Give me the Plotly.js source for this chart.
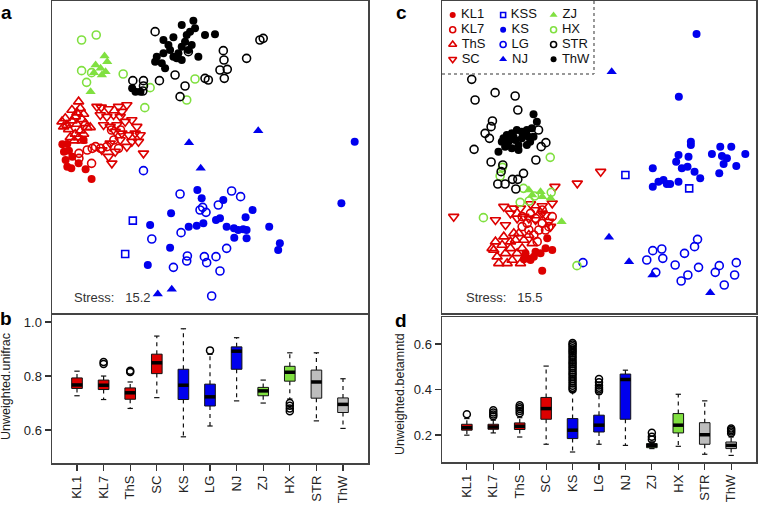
<!DOCTYPE html>
<html>
<head>
<meta charset="utf-8">
<script src="https://cdn.plot.ly/plotly-3.0.1.min.js"></script>
<style>body{margin:0;background:#fff;} #plot{width:759px;height:505px;}</style>
</head>
<body>
<div id="plot"></div>
<script>
// =============================================================================
// NMDS scores (arbitrary units), panel a
// =============================================================================

var a_KL1 = [[186,433],[201,432],[191,455],[206,452],[196,480],[201,500],[213,505],[216,470],[235,490],[250,420],[256,508],[274,537]];
var a_KL7 = [[236,460],[261,450],[276,445],[286,440],[301,445],[236,475],[274,490],[334,390],[361,390],[341,420],[320,440],[355,445]];
var a_ThS = [[235,305],[215,330],[240,325],[230,338],[225,350],[250,342],[195,355],[215,362],[245,358],[185,365],[200,375],[230,372],[255,370],[270,382],[190,380],[205,388],[240,392],[260,382],[225,402],[250,402],[210,412],[235,412],[245,422],[222,422]];
var a_SC  = [[303,322],[325,327],[355,320],[380,315],[290,320],[300,345],[320,350],[340,345],[360,350],[365,335],[310,375],[330,380],[350,375],[375,365],[395,360],[410,380],[345,395],[365,400],[385,405],[405,400],[420,405],[395,425],[415,425],[360,420],[330,430],[305,450],[325,470],[335,490],[430,460],[380,440],[345,455]];
var a_KSS = [[398,662],[375,762]];
var a_KS  = [[592,570],[605,595],[513,640],[450,675],[566,680],[590,677],[610,670],[648,660],[660,655],[670,600],[680,680],[702,685],[715,690],[730,688],[740,690],[703,713],[740,715],[758,630],[737,652],[808,680],[840,730],[835,750],[510,743],[443,795],[1065,425],[1025,610]];
var a_LG  = [[540,582],[695,573],[722,590],[655,615],[600,630],[618,637],[608,622],[543,698],[455,717],[562,768],[560,783],[613,770],[620,788],[648,770],[680,745],[660,813],[520,802],[635,888],[430,512]];
var a_NJ  = [[567,428],[775,392],[602,505],[473,882],[515,868]];
var a_ZJ  = [[313,168],[321,185],[286,195],[301,205],[316,215],[281,218],[305,225],[271,275]];
var a_HX  = [[244,120],[288,105],[244,212],[259,247],[274,218],[369,222],[450,263],[434,323],[585,237],[560,300]];
var a_STR = [[465,95],[565,155],[670,152],[672,180],[660,210],[682,208],[673,235],[740,175],[780,120],[790,115],[525,225],[478,242],[555,258],[540,290],[615,235],[625,240],[430,242],[398,242],[430,258],[428,273]];
var a_ThW = [[580,62],[545,75],[570,95],[585,85],[615,105],[645,103],[520,112],[490,120],[555,125],[505,135],[545,140],[575,135],[470,170],[490,160],[520,170],[530,175],[545,180],[465,185],[485,190],[495,205],[595,170],[565,150],[510,150],[535,160],[560,105],[396,265],[406,275],[421,275]];

// =============================================================================
// NMDS scores, panel c
// =============================================================================

var c_KL1 = [[505,715],[500,745],[520,750],[470,755],[445,775],[455,780],[435,778],[465,770],[490,812],[485,760],[440,760]];
var c_KL7 = [[430,650],[455,640],[470,655],[490,670],[480,690],[450,690],[430,680],[465,705],[500,690],[520,650],[490,630],[445,670],[510,680],[475,725]];
var c_ThS = [[350,725],[370,735],[345,750],[355,770],[380,760],[400,780],[410,720],[420,700],[430,745],[395,745],[375,710],[360,790],[415,760],[440,770],[385,790],[435,720],[405,700],[450,705],[340,745],[395,725],[425,790],[460,730]];
var c_SC  = [[225,650],[350,660],[380,675],[375,620],[405,625],[425,625],[435,650],[470,630],[490,618],[520,610],[528,560],[595,550],[665,515],[470,660],[510,665],[515,680],[500,645],[450,655],[415,655],[490,640],[395,640],[455,612]];
var c_KSS = [[739,525],[930,565]];
var c_KS  = [[952,102],[899,290],[935,425],[935,435],[898,465],[928,470],[891,485],[908,505],[925,500],[946,515],[963,535],[821,505],[821,560],[838,545],[853,540],[863,552],[873,552],[898,545],[998,462],[1023,440],[1028,468],[1043,475],[1056,440],[1098,462],[1033,492],[1071,498],[1020,520]];
var c_LG  = [[821,752],[848,747],[803,780],[851,775],[888,795],[916,760],[946,740],[955,718],[958,802],[926,825],[906,843],[830,817],[1008,817],[1020,797],[1071,788],[1066,825],[1035,855],[612,788]];
var c_NJ  = [[698,215],[690,712],[750,785],[820,825],[993,878]];
var c_ZJ  = [[450,570],[485,575],[490,590],[515,595],[548,665],[460,585]];
var c_HX  = [[514,472],[371,502],[364,528],[434,565],[424,607],[451,603],[467,588],[517,577],[314,653],[594,797]];
var c_STR = [[279,238],[289,300],[349,278],[409,288],[417,330],[341,363],[337,380],[319,400],[332,415],[286,448],[337,486],[372,495],[367,515],[357,552],[379,552],[401,538],[417,538],[434,520],[411,567],[471,480],[487,440],[501,428],[479,390]];
var c_ThW = [[464,343],[474,365],[459,385],[444,390],[429,395],[414,390],[399,400],[384,405],[374,415],[369,425],[389,425],[409,420],[429,415],[449,410],[464,410],[419,435],[399,445],[379,440],[359,455],[419,450],[444,435],[454,425],[434,405],[404,410],[384,430]];

// =============================================================================
// Boxplot summaries
// =============================================================================

var groups = ["KL1","KL7","ThS","SC","KS","LG","NJ","ZJ","HX","STR","ThW"];

// Unweighted.unifrac (b)
var uniLow  = [0.727,0.713,0.680,0.720,0.575,0.615,0.708,0.700,0.715,0.634,0.606];
var uniQ1   = [0.754,0.750,0.714,0.809,0.713,0.689,0.825,0.727,0.781,0.718,0.665];
var uniMed  = [0.767,0.766,0.738,0.849,0.766,0.723,0.892,0.745,0.814,0.778,0.695];
var uniQ3   = [0.793,0.785,0.756,0.881,0.825,0.770,0.908,0.758,0.836,0.822,0.719];
var uniHigh = [0.818,0.800,0.778,0.948,0.975,0.880,0.942,0.785,0.886,0.886,0.790];
var uniOut  = {KL7:[0.852,0.845], ThS:[0.820,0.815], LG:[0.895], HX:[0.700,0.690,0.680,0.670]};

// Unweighted.betamntd (d)
var bmLow  = [0.199,0.209,0.191,0.159,0.125,0.159,0.154,0.140,0.150,0.115,0.110];
var bmQ1   = [0.221,0.225,0.224,0.269,0.184,0.213,0.269,0.144,0.209,0.159,0.140];
var bmMed  = [0.232,0.235,0.238,0.316,0.221,0.243,0.444,0.154,0.243,0.201,0.154];
var bmQ3   = [0.247,0.247,0.253,0.365,0.272,0.287,0.468,0.162,0.294,0.254,0.169];
var bmHigh = [0.272,0.265,0.276,0.503,0.390,0.379,0.485,0.170,0.379,0.350,0.191];
var bmOut  = {
    KL1:[0.291],
    KL7:[0.309,0.299,0.290,0.282],
    ThS:[0.331,0.322,0.314,0.305,0.296],
    KS:[0.605,0.598,0.590,0.582,0.574,0.566,0.558,0.548,0.540,0.530,0.520,0.512,0.502,0.494,0.484,0.474,0.466,0.456,0.446,0.436,0.426,0.416,0.408,0.400],
    LG:[0.446,0.432,0.418,0.408,0.400,0.392],
    ZJ:[0.210,0.192,0.180],
    ThW:[0.228,0.222,0.215,0.208]
};

// =============================================================================
// Styles
// =============================================================================

var RED = "#dd0000", BLUE = "#0000ee", GREEN = "#80e040", BLACK = "#000000", GRAY = "#bdbdbd";
var FONT = "Liberation Sans, Arial, sans-serif";

var legendOrder = ["KL1","KL7","ThS","SC","KSS","KS","LG","NJ","ZJ","HX","STR","ThW"];
var styles = {
    KL1: {symbol: "circle", color: RED},
    KL7: {symbol: "circle-open", color: RED},
    ThS: {symbol: "triangle-up-open", color: RED},
    SC:  {symbol: "triangle-down-open", color: RED},
    KSS: {symbol: "square-open", color: BLUE},
    KS:  {symbol: "circle", color: BLUE},
    LG:  {symbol: "circle-open", color: BLUE},
    NJ:  {symbol: "triangle-up", color: BLUE},
    ZJ:  {symbol: "triangle-up", color: GREEN},
    HX:  {symbol: "circle-open", color: GREEN},
    STR: {symbol: "circle-open", color: BLACK},
    ThW: {symbol: "circle", color: BLACK}
};
var boxColors = [RED,RED,RED,RED,BLUE,BLUE,BLUE,GREEN,GREEN,GRAY,GRAY];

var panelA = {KL1:a_KL1, KL7:a_KL7, ThS:a_ThS, SC:a_SC, KSS:a_KSS, KS:a_KS, LG:a_LG, NJ:a_NJ, ZJ:a_ZJ, HX:a_HX, STR:a_STR, ThW:a_ThW};
var panelC = {KL1:c_KL1, KL7:c_KL7, ThS:c_ThS, SC:c_SC, KSS:c_KSS, KS:c_KS, LG:c_LG, NJ:c_NJ, ZJ:c_ZJ, HX:c_HX, STR:c_STR, ThW:c_ThW};

function markerFor(g, big) {
    var s = styles[g];
    var size = big ? 8 : 6;
    if (s.symbol.indexOf("triangle") === 0) size += 1;
    if (s.symbol === "square-open") size -= 1;
    return {symbol: s.symbol, color: s.color, size: size,
            line: {color: s.color, width: s.symbol.indexOf("open") > 0 ? 1.6 : 0}};
}

var data = [];

// scatter panels
[[panelA, "x", "y"], [panelC, "x2", "y2"]].forEach(function(p) {
    legendOrder.forEach(function(g) {
        var pts = p[0][g];
        data.push({
            type: "scatter", mode: "markers",
            x: pts.map(function(d){ return d[0]; }),
            y: pts.map(function(d){ return d[1]; }),
            xaxis: p[1], yaxis: p[2],
            marker: markerFor(g, true),
            showlegend: false, hoverinfo: "skip"
        });
    });
});

// legend box inside panel c, 3 columns x 4 rows
legendOrder.forEach(function(g, i) {
    var col = Math.floor(i / 4), row = i % 4;
    data.push({
        type: "scatter", mode: "markers+text",
        x: [222 + col * 151], y: [45 + row * 44.3],
        text: ["\u00a0" + g], textposition: "middle right",
        textfont: {family: FONT, size: 13, color: "#111"},
        xaxis: "x2", yaxis: "y2",
        marker: markerFor(g, false),
        showlegend: false, hoverinfo: "skip"
    });
});

// boxplots
function boxTraces(low, q1, med, q3, high, outs, xa, ya) {
    var idx = groups.map(function(g, i){ return i; });
    var hw = 0.2, cap = 0.1;
    var wx = [], wy = [], cx = [], cy = [], mx = [], my = [], ox = [], oy = [];
    idx.forEach(function(i) {
        wx.push(i, i, null, i, i, null);
        wy.push(q3[i], high[i], null, q1[i], low[i], null);
        cx.push(i - cap, i + cap, null, i - cap, i + cap, null);
        cy.push(high[i], high[i], null, low[i], low[i], null);
        mx.push(i - hw, i + hw, null);
        my.push(med[i], med[i], null);
        (outs[groups[i]] || []).forEach(function(v) { ox.push(i); oy.push(v); });
    });
    return [
        {type: "scatter", mode: "lines", x: wx, y: wy, xaxis: xa, yaxis: ya,
         line: {color: "#111", width: 1.2, dash: "4px,4px"}, showlegend: false, hoverinfo: "skip"},
        {type: "scatter", mode: "lines", x: cx, y: cy, xaxis: xa, yaxis: ya,
         line: {color: "#111", width: 1.2}, showlegend: false, hoverinfo: "skip"},
        {type: "bar", x: idx, base: q1, y: idx.map(function(i){ return q3[i] - q1[i]; }),
         width: 2 * hw, xaxis: xa, yaxis: ya,
         marker: {color: boxColors, line: {color: "#111", width: 1}},
         showlegend: false, hoverinfo: "skip"},
        {type: "scatter", mode: "lines", x: mx, y: my, xaxis: xa, yaxis: ya,
         line: {color: "#000", width: 3.5}, showlegend: false, hoverinfo: "skip"},
        {type: "scatter", mode: "markers", x: ox, y: oy, xaxis: xa, yaxis: ya,
         marker: {symbol: "circle-open", color: "#000", size: 7, line: {width: 1.5}},
         showlegend: false, hoverinfo: "skip"}
    ];
}

data = data.concat(boxTraces(uniLow, uniQ1, uniMed, uniQ3, uniHigh, uniOut, "x3", "y3"));
data = data.concat(boxTraces(bmLow, bmQ1, bmMed, bmQ3, bmHigh, bmOut, "x4", "y4"));

// =============================================================================
// Layout
// =============================================================================

var W = 759, H = 505;
var domA = [52 / W, 368 / W], domC = [442 / W, 756 / W];
var domTop = [1 - 313 / H, 1 - 1 / H];
var domB = [1 - 463 / H, 1 - 315 / H], domD = [1 - 462 / H, 1 - 317 / H];

function frame(extra) {
    var ax = {showgrid: false, zeroline: false, showline: true, mirror: true,
              linecolor: "#444", linewidth: 1.5, ticks: "", showticklabels: false,
              fixedrange: true};
    for (var k in extra) ax[k] = extra[k];
    return ax;
}

function extend(a, b) { var o = {}; for (var k in a) o[k] = a[k]; for (var k2 in b) o[k2] = b[k2]; return o; }

var tickFont = {family: FONT, size: 13, color: "#222"};
var catAxis = {range: [-0.94, 10.94], tickvals: groups.map(function(g, i){ return i; }),
               ticktext: groups, tickangle: -90, ticks: "outside", ticklen: 6,
               tickwidth: 1.2, tickcolor: "#333", showticklabels: true, tickfont: tickFont};
var valAxis = {ticks: "outside", ticklen: 6, tickwidth: 1.2, tickcolor: "#333",
               showticklabels: true, tickfont: tickFont};

var paperText = {xref: "paper", yref: "paper", showarrow: false};

var layout = {
    width: W, height: H,
    margin: {l: 0, r: 0, t: 0, b: 0},
    paper_bgcolor: "#fff", plot_bgcolor: "#fff",
    font: {family: FONT, size: 13, color: "#222"},
    barmode: "overlay",
    xaxis:  frame({domain: domA, range: [155, 1105], anchor: "y"}),
    yaxis:  frame({domain: domTop, range: [939, 3], anchor: "x"}),
    xaxis2: frame({domain: domC, range: [190, 1130], anchor: "y2"}),
    yaxis2: frame({domain: domTop, range: [939, 3], anchor: "x2"}),
    xaxis3: frame(extend(catAxis, {domain: domA, anchor: "y3"})),
    yaxis3: frame(extend(valAxis, {domain: domB, anchor: "x3", range: [0.478, 1.026],
                   tickvals: [0.6, 0.8, 1.0], ticktext: ["0.6", "0.8", "1.0"]})),
    xaxis4: frame(extend(catAxis, {domain: domC, anchor: "y4"})),
    yaxis4: frame(extend(valAxis, {domain: domD, anchor: "x4", range: [0.081, 0.719],
                   tickvals: [0.2, 0.4, 0.6], ticktext: ["0.2", "0.4", "0.6"]})),
    shapes: [
        {type: "line", xref: "x2", yref: "y2", x0: 645, x1: 645, y0: 3, y1: 222,
         line: {color: "#777", width: 1.5, dash: "dot"}},
        {type: "line", xref: "x2", yref: "y2", x0: 190, x1: 645, y0: 222, y1: 222,
         line: {color: "#777", width: 1.5, dash: "dot"}}
    ],
    annotations: [
        {text: "<b>a</b>", x: 6 / W, y: 1 - 12 / H},
        {text: "<b>c</b>", x: 401 / W, y: 1 - 12 / H},
        {text: "<b>b</b>", x: 6 / W, y: 1 - 318 / H},
        {text: "<b>d</b>", x: 401 / W, y: 1 - 320 / H}
    ].map(function(a) {
        return extend(extend(a, paperText), {xanchor: "center", yanchor: "middle",
                          font: {family: FONT, size: 19, color: "#000"}});
    }).concat([
        {text: "Stress:\u00a0\u00a0 15.2", x: 72 / W, y: 1 - 297 / H},
        {text: "Stress:\u00a0\u00a0 15.5", x: 464 / W, y: 1 - 297 / H}
    ].map(function(a) {
        return extend(extend(a, paperText), {xanchor: "left", yanchor: "middle",
                          font: {family: FONT, size: 13, color: "#333"}});
    })).concat([
        {text: "Unweighted.unifrac", x: 6 / W, y: 1 - 387 / H},
        {text: "Unweighted.betamntd", x: 400 / W, y: 1 - 394 / H}
    ].map(function(a) {
        return extend(extend(a, paperText), {textangle: -90, xanchor: "center", yanchor: "middle",
                          font: {family: FONT, size: 12.5, color: "#222"}});
    }))
};

Plotly.newPlot("plot", data, layout, {staticPlot: true, displayModeBar: false});
</script>
</body>
</html>
